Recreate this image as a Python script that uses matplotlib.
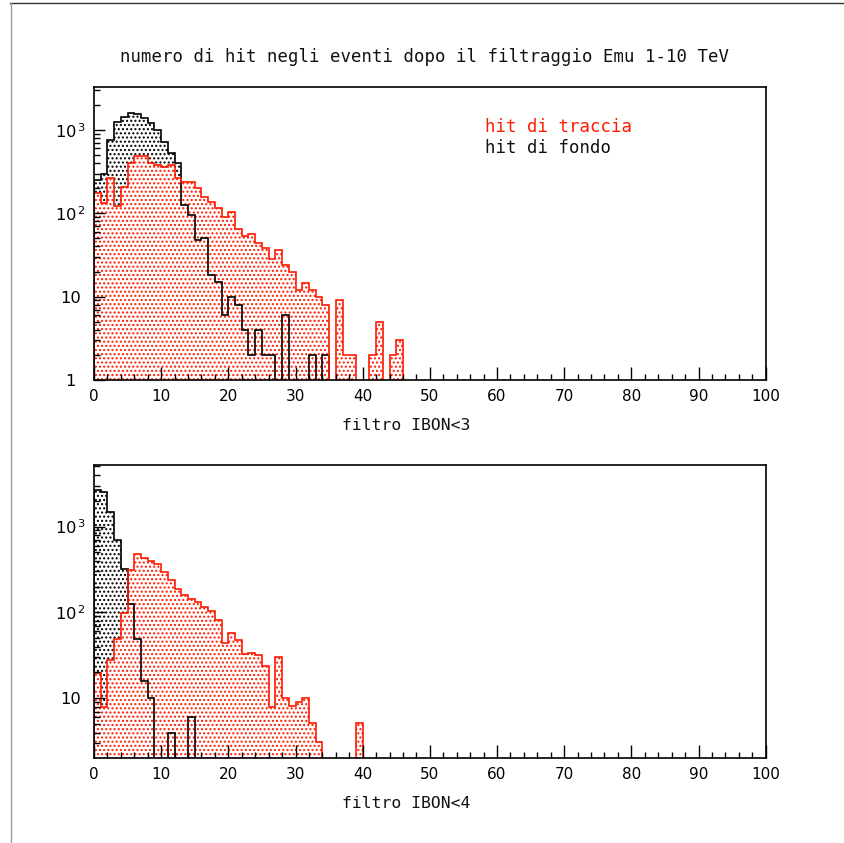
import numpy as np
import matplotlib
matplotlib.use('Agg')
import matplotlib.pyplot as plt
from matplotlib.lines import Line2D
from matplotlib.ticker import FixedLocator, FuncFormatter, NullFormatter

plt.rcParams['hatch.linewidth'] = 1.0
plt.rcParams['mathtext.fontset'] = 'custom'
plt.rcParams['mathtext.rm'] = 'DejaVu Sans'
plt.rcParams['mathtext.it'] = 'DejaVu Sans'

# ---------------- data (bin contents, bins of width 1 from 0 to 100) ----------------
title = "numero di hit negli eventi dopo il filtraggio Emu 1-10 TeV"
legend_labels = ["hit di traccia", "hit di fondo"]
xlabels = ["filtro IBON<3", "filtro IBON<4"]
xticks = [0, 10, 20, 30, 40, 50, 60, 70, 80, 90, 100]

top_traccia = [174, 132, 263, 123, 205, 400, 490, 490, 405, 380,
               355, 380, 263, 240, 240, 200, 155, 136, 115, 91,
               105, 65, 54, 57, 44, 38, 28, 36, 24, 20,
               12, 14.5, 12, 10, 8, 0, 9, 2, 2, 0,
               0, 2, 5, 0, 2, 3]
top_fondo = [250, 300, 760, 1230, 1440, 1620, 1550, 1380, 1200, 1000,
             720, 525, 400, 126, 96, 48, 50, 18, 15, 6,
             10, 8, 4, 2, 4, 2, 2, 0, 6, 0,
             0, 0, 2, 0, 2]
bot_traccia = [19.5, 8, 28, 49, 99, 310, 480, 430, 400, 365,
               294, 239, 188, 160, 144, 132, 115, 105, 82, 44,
               58, 48, 33, 34, 32, 23.6, 8, 30, 10, 8.2,
               9, 10, 5.2, 3.1, 0, 0, 0, 0, 0, 5.2]
bot_fondo = [2630, 2500, 1480, 705, 316, 125, 49, 16, 10, 0,
             0, 4, 0, 0, 6]

NB = 100
edges = np.arange(0, NB + 1, 1)


def full(v):
    return np.array(list(v) + [0] * (NB - len(v)), dtype=float)


RED = '#ff1a00'
W, H = 845, 843
fig = plt.figure(figsize=(W / 100, H / 100), dpi=100)
fig.patch.set_facecolor('white')

# page border lines
fig.add_artist(Line2D([10 / W, 1], [1 - 3.3 / H, 1 - 3.3 / H], color='#333333', lw=1.0))
fig.add_artist(Line2D([10.7 / W, 10.7 / W], [0, 1 - 3.3 / H], color='#999999', lw=1.0))

panels = [
    dict(rect=[94, 87.3, 765.7, 380], ylim=(1, 3250), traccia=top_traccia, fondo=top_fondo,
         xlabel=xlabels[0], xlab_y=425, legend=True),
    dict(rect=[94, 465, 765.7, 758], ylim=(2.02, 5200), traccia=bot_traccia, fondo=bot_fondo,
         xlabel=xlabels[1], xlab_y=803, legend=False),
]


def yfmt(v, pos):
    e = int(round(np.log10(v)))
    if e == 0:
        return "1"
    if e == 1:
        return "10"
    return r"$10^{\,%d}$" % e


for p in panels:
    l, t, r, b = p['rect']
    ax = fig.add_axes([l / W, 1 - b / H, (r - l) / W, (b - t) / H])
    ax.set_yscale('log')
    ymin, ymax = p['ylim']
    base = ymin * 0.5
    tr = np.clip(full(p['traccia']), base, None)
    fo = np.clip(full(p['fondo']), base, None)

    ax.stairs(fo, edges, baseline=base, fill=True, facecolor='none', edgecolor='black',
              hatch='....', linewidth=0, zorder=1.0)
    ax.stairs(tr, edges, baseline=base, fill=True, facecolor='white', edgecolor=RED,
              hatch='....', linewidth=0, zorder=1.1)
    ax.stairs(fo, edges, baseline=base, color='black', linewidth=1.2, zorder=1.2)
    ax.stairs(tr, edges, baseline=base, color=RED, linewidth=1.2, zorder=1.3)

    ax.set_xlim(0, 100)
    ax.set_ylim(ymin, ymax)

    for s in ax.spines.values():
        s.set_linewidth(1.2)

    ax.xaxis.set_major_locator(FixedLocator(xticks))
    ax.xaxis.set_minor_locator(FixedLocator(np.arange(0, 101, 2)))
    ax.tick_params(axis='x', which='major', direction='in', length=9.5, width=1.0,
                   pad=6.5, labelsize=11, top=False)
    ax.tick_params(axis='x', which='minor', direction='in', length=4.3, width=1.0, top=False)
    for lab in ax.get_xticklabels():
        lab.set_fontfamily('DejaVu Sans')

    majors = [10.0 ** e for e in range(0, 5)]
    minors = [m * 10.0 ** e for e in range(0, 4) for m in range(2, 10)]
    ax.yaxis.set_major_locator(FixedLocator(majors))
    ax.yaxis.set_minor_locator(FixedLocator(minors))
    ax.yaxis.set_major_formatter(FuncFormatter(yfmt))
    ax.yaxis.set_minor_formatter(NullFormatter())
    ax.tick_params(axis='y', which='major', direction='in', length=8, width=1.0,
                   pad=17, labelsize=11.7, right=False)
    ax.tick_params(axis='y', which='minor', direction='in', length=4.3, width=1.0, right=False)
    for lab in ax.get_yticklabels():
        lab.set_fontfamily('DejaVu Sans')
        lab.set_horizontalalignment('center')

    fig.text(406 / W, 1 - p['xlab_y'] / H, p['xlabel'], ha='center', va='center',
             fontsize=11.8, family='DejaVu Sans Mono', color='#111111')

    if p['legend']:
        fig.text(485 / W, 1 - 127 / H, legend_labels[0], ha='left', va='center',
                 fontsize=12.5, family='DejaVu Sans Mono', color=RED)
        fig.text(485 / W, 1 - 148 / H, legend_labels[1], ha='left', va='center',
                 fontsize=12.5, family='DejaVu Sans Mono', color='#111111')

fig.text(425 / W, 1 - 57 / H, title, ha='center', va='center', fontsize=12.5,
         family='DejaVu Sans Mono', color='#111111')

fig.savefig('out.png', dpi=100, facecolor='white')
